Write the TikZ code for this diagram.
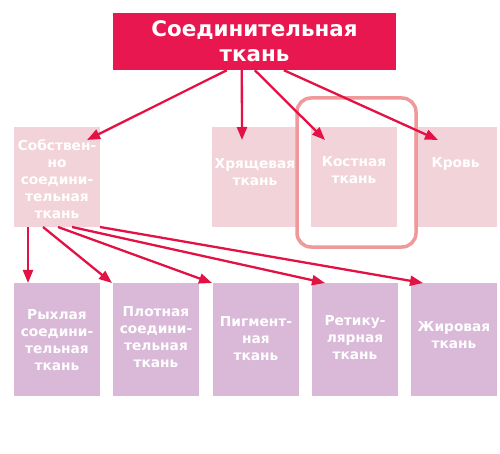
\documentclass[tikz,border=0pt]{standalone}
\usepackage{fontspec}
\setmainfont{DejaVu Sans}
\usetikzlibrary{arrows.meta,calc}
\definecolor{crim}{HTML}{E8174F}
\definecolor{arr}{HTML}{E31245}
\definecolor{pinkbox}{HTML}{F3D3DA}
\definecolor{purplebox}{HTML}{D9B8D8}
\definecolor{hlred}{HTML}{F0999A}
\begin{document}
\begin{tikzpicture}[x=1bp,y=-1bp,
  pinkb/.style={fill=pinkbox, inner sep=0, outer sep=0, minimum height=100bp, minimum width=86bp},
  purpb/.style={fill=purplebox, inner sep=0, outer sep=0, minimum height=113bp, minimum width=86bp},
  lbl/.style={text=white, font=\bfseries\fontsize{13.8}{17}\selectfont, align=center, inner sep=0},
  conn/.style={draw=arr, line width=2.3bp, -{Triangle[length=13bp,width=10bp]}}]
\useasboundingbox[fill=white] (0,0) rectangle (500,454);
% top
\node[fill=crim, inner sep=0, minimum width=283bp, minimum height=57bp, text=white,
  font=\bfseries\fontsize{21.5}{25}\selectfont, align=center] (top) at (254.5,41.5) {Соединительная\\ткань};
% second row
\node[pinkb] (sob) at (57,177) {};
\node[lbl] (sobt) at (57,179) {Собствен-\\но\\соедини-\\тельная\\ткань};
\node[pinkb] (xr) at (255,177) {};
\node[lbl] (xrt) at (255,172) {Хрящевая\\ткань};
\node[pinkb] (ko) at (354,177) {};
\node[lbl] (kot) at (354,170) {Костная\\ткань};
\node[pinkb, minimum width=83bp] (kr) at (455.5,177) {};
\node[lbl] (krt) at (455.5,164) {Кровь};
% bottom row
\node[purpb] (b1) at (57,339.5) {};
\node[lbl] at (57,340) {Рыхлая\\соедини-\\тельная\\ткань};
\node[purpb] (b2) at (156,339.5) {};
\node[lbl] at (156,337) {Плотная\\соедини-\\тельная\\ткань};
\node[purpb] (b3) at (256,339.5) {};
\node[lbl] at (256,339) {Пигмент-\\ная\\ткань};
\node[purpb] (b4) at (355,339.5) {};
\node[lbl] at (355,338) {Ретику-\\лярная\\ткань};
\node[purpb] (b5) at (454,339.5) {};
\node[lbl] at (454,335) {Жировая\\ткань};
% highlight
\node[draw=hlred, line width=3.5bp, rounded corners=14bp, minimum width=119bp, minimum height=149bp, inner sep=0] (hl) at (356.5,172.5) {};
% arrows from top
\draw[conn] ([xshift=114bp]top.south west) -- ([xshift=73bp,yshift=-13bp]sob.north west);
\draw[conn] ([xshift=129bp]top.south west) -- ([xshift=30bp,yshift=-13bp]xr.north west);
\draw[conn] ([xshift=142bp]top.south west) -- ([xshift=14bp,yshift=-13bp]ko.north west);
\draw[conn] ([xshift=171bp]top.south west) -- ([xshift=24bp,yshift=-13bp]kr.north west);
% arrows from sob
\draw[conn] ([xshift=14bp]sob.south west) -- ([xshift=14bp]b1.north west);
\draw[conn] ([xshift=29bp]sob.south west) -- ([xshift=-1bp]b2.north west);
\draw[conn] ([xshift=44bp]sob.south west) -- ([xshift=-1bp]b3.north west);
\draw[conn] ([xshift=58bp]sob.south west) -- ([xshift=13bp]b4.north west);
\draw[conn] ([xshift=86bp]sob.south west) -- ([xshift=12bp]b5.north west);
\end{tikzpicture}
\end{document}
